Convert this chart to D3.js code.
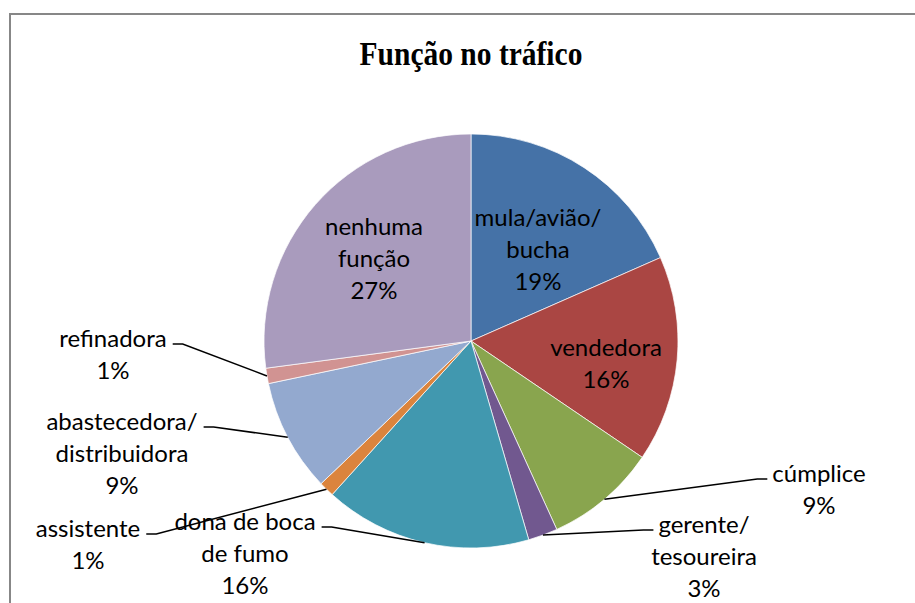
<!DOCTYPE html>
<html>
<head>
<meta charset="utf-8">
<script src="https://cdn.jsdelivr.net/npm/d3@7"></script>
<style>
  body { margin: 0; background: #fff; }
  svg { display: block; }
</style>
</head>
<body>
<div id="chart"></div>
<script>
// chart data (clockwise from 12 o'clock)
var categories = ["mula/avião/\nbucha", "vendedora", "cúmplice", "gerente/\ntesoureira",
  "dona de boca\nde fumo", "assistente", "abastecedora/\ndistribuidora", "refinadora", "nenhuma\nfunção"];
var values = [18.4, 16.1, 8.7, 2.3, 16.2, 1.2, 8.8, 1.2, 27.1];
var pctLabels = ["19%", "16%", "9%", "3%", "16%", "1%", "9%", "1%", "27%"];
var title = "Função no tráfico";

var colors = ["#4572a7", "#aa4643", "#89a54e", "#71588f", "#4198af", "#db843d", "#93a9cf", "#d19392", "#a99bbd"];

// where each label sits: [centre x, first baseline], side of leader (0 = inside)
var labelLayout = [
  [538, 226, 0], [606, 356, 0], [819, 482, 1], [704, 533, 1],
  [245, 530, -1], [88, 537, -1], [122, 430, -1], [113, 347, -1], [374, 235, 0]
];

var svgWidth = 915, svgHeight = 603;
var cx = 471, cy = 341, radius = 207;
var lineH = 32;

var svg = d3.select("#chart").append("svg")
  .attr("width", svgWidth)
  .attr("height", svgHeight);

// outer frame (runs off the right and bottom edge)
svg.append("rect")
  .attr("x", 10).attr("y", 14)
  .attr("width", 920).attr("height", 620)
  .attr("fill", "none")
  .attr("stroke", "#878787")
  .attr("stroke-width", 2);

svg.append("text")
  .attr("transform", "translate(471,65) scale(1,1.12)")
  .attr("text-anchor", "middle")
  .style("font-family", "'Liberation Serif', 'Times New Roman', serif")
  .style("font-weight", "bold")
  .style("font-size", "29.5px")
  .text(title);

var pie = d3.pie().sort(null).value(d => d);
var arcs = pie(values);
var arc = d3.arc().innerRadius(0).outerRadius(radius);

var g = svg.append("g").attr("transform", `translate(${cx},${cy})`);

g.selectAll("path")
  .data(arcs)
  .enter()
  .append("path")
  .attr("d", arc)
  .attr("fill", (d, i) => colors[i])
  .attr("stroke", "#fff")
  .attr("stroke-width", 0.7);

// labels
var labels = svg.append("g")
  .style("font-family", "Lato, 'Open Sans', sans-serif")
  .style("font-size", "24px")
  .attr("fill", "#000");

arcs.forEach(function(a, i) {
  var lay = labelLayout[i];
  var lines = categories[i].split("\n").concat([pctLabels[i]]);
  var t = labels.append("text")
    .attr("text-anchor", "middle");
  lines.forEach(function(s, k) {
    t.append("tspan")
      .attr("x", lay[0])
      .attr("y", lay[1] + k * lineH)
      .text(s);
  });

  if (lay[2] !== 0) {
    var w = t.select("tspan").node().getComputedTextLength();
    var mid = (a.startAngle + a.endAngle) / 2;
    var px = cx + radius * Math.sin(mid);
    var py = cy - radius * Math.cos(mid);
    var ex, ey = lay[1] - 3;
    if (lay[2] > 0) ex = lay[0] - w / 2 - 5;
    else ex = lay[0] + w / 2 + 6;
    var elbow = ex + (lay[2] > 0 ? -10 : 10);
    svg.append("polyline")
      .attr("points", [[ex, ey], [elbow, ey], [px, py]].map(p => p.join(",")).join(" "))
      .attr("fill", "none")
      .attr("stroke", "#000")
      .attr("stroke-width", 1.5);
  }
});
</script>
</body>
</html>
